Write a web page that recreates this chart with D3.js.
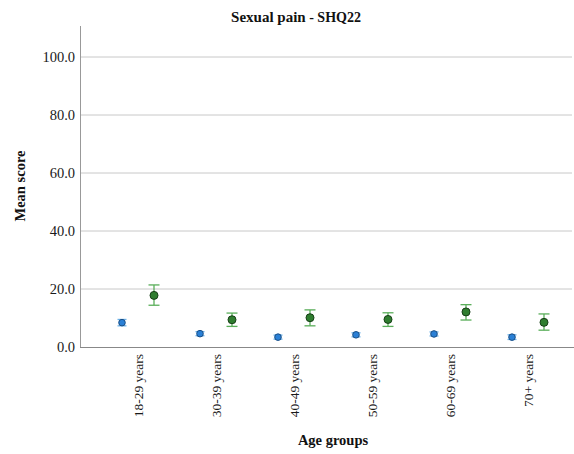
<!DOCTYPE html>
<html><head><meta charset="utf-8">
<script src="https://cdn.jsdelivr.net/npm/d3@7"></script>
<style>body{margin:0;background:#fff}svg{display:block}</style>
</head><body><svg id="c" width="574" height="454"></svg>
<script>
const categories = ["18-29 years","30-39 years","40-49 years","50-59 years","60-69 years","70+ years"];
const blueMean = [8.4, 4.6, 3.4, 4.2, 4.5, 3.4];
const blueLow  = [7.3, 3.9, 2.7, 3.5, 3.8, 2.6];
const blueHigh = [9.5, 5.3, 4.1, 4.9, 5.2, 4.2];
const greenMean = [17.8, 9.4, 10.1, 9.5, 12.1, 8.5];
const greenLow  = [14.4, 7.1, 7.3, 7.1, 9.3, 5.8];
const greenHigh = [21.4, 11.7, 12.8, 11.8, 14.6, 11.4];
const yTicks = [0, 20, 40, 60, 80, 100];

const svg = d3.select("#c");
const x0 = 80, x1 = 574, yTop = 26, yBase = 347;
const y = d3.scaleLinear().domain([0, 110]).range([yBase, 28]);
const x = d3.scalePoint().domain(categories).range([138, 528]);
const off = 16;
const serif = "'Liberation Serif','Times New Roman',serif";

// grid
svg.append("g").selectAll("line").data(yTicks.filter(d=>d>0)).join("line")
  .attr("x1", x0).attr("x2", x1-2).attr("y1", d=>y(d)).attr("y2", d=>y(d))
  .attr("stroke", "#c8c8c8").attr("stroke-width", 1);

// y axis
const ya = svg.append("g").attr("transform", `translate(${x0},0)`)
  .call(d3.axisLeft(y).tickValues(yTicks).tickFormat(d3.format(".1f")).tickSize(0).tickPadding(5));
ya.select(".domain").remove();
ya.selectAll(".tick text").attr("font-family", serif).attr("font-size", 14.5).attr("fill", "#1a1a1a");
svg.append("line").attr("x1", x0+0.5).attr("x2", x0+0.5).attr("y1", yTop).attr("y2", yBase)
  .attr("stroke", "#999");
// x axis
const xa = svg.append("g").attr("transform", `translate(0,${yBase})`)
  .call(d3.axisBottom(x).tickSize(0).tickPadding(0));
xa.select(".domain").remove();
xa.selectAll(".tick text").attr("font-family", serif).attr("font-size", 13.5).attr("fill", "#1a1a1a")
  .attr("transform", "rotate(-90)").attr("text-anchor", "end")
  .attr("x", -7).attr("y", 0).attr("dy", "0.35em");
svg.append("line").attr("x1", x0).attr("x2", x1).attr("y1", yBase+0.5).attr("y2", yBase+0.5)
  .attr("stroke", "#888");

function series(mean, low, high, dx, barColor, fill, stroke, r, cap) {
  const g = svg.append("g");
  const d = categories.map((c,i)=>({c, m:mean[i], lo:low[i], hi:high[i]}));
  const cx = p => x(p.c) + dx;
  g.selectAll(".v").data(d).join("line").attr("x1", cx).attr("x2", cx)
    .attr("y1", p=>y(p.lo)).attr("y2", p=>y(p.hi)).attr("stroke", barColor).attr("stroke-width", 1.3);
  g.selectAll(".t").data(d).join("line").attr("x1", p=>cx(p)-cap).attr("x2", p=>cx(p)+cap)
    .attr("y1", p=>y(p.hi)).attr("y2", p=>y(p.hi)).attr("stroke", barColor).attr("stroke-width", 1.3);
  g.selectAll(".b").data(d).join("line").attr("x1", p=>cx(p)-cap).attr("x2", p=>cx(p)+cap)
    .attr("y1", p=>y(p.lo)).attr("y2", p=>y(p.lo)).attr("stroke", barColor).attr("stroke-width", 1.3);
  g.selectAll("circle").data(d).join("circle").attr("cx", cx).attr("cy", p=>y(p.m)).attr("r", r)
    .attr("fill", fill).attr("stroke", stroke).attr("stroke-width", 1);
}
series(blueMean, blueLow, blueHigh, -off, "#6fb3e8", "#2a80d6", "#1a4f86", 3.3, 4.5);
series(greenMean, greenLow, greenHigh, off, "#5aae5a", "#2f7d2f", "#173f17", 4, 5.5);

// title
const t = svg.append("text").attr("x", 296).attr("y", 22).attr("text-anchor", "middle")
  .attr("font-family", serif).attr("font-weight", "bold").attr("fill", "#111");
t.append("tspan").attr("font-size", 15).text("Sexual pain");
t.append("tspan").attr("font-size", 14).text(" - SHQ22");

svg.append("text").attr("transform", "translate(25,186) rotate(-90)").attr("text-anchor", "middle")
  .attr("font-family", serif).attr("font-weight", "bold").attr("font-size", 14.5).attr("fill", "#111")
  .text("Mean score");
svg.append("text").attr("x", 333).attr("y", 445).attr("text-anchor", "middle")
  .attr("font-family", serif).attr("font-weight", "bold").attr("font-size", 14.5).attr("fill", "#111")
  .text("Age groups");
</script></body></html>
